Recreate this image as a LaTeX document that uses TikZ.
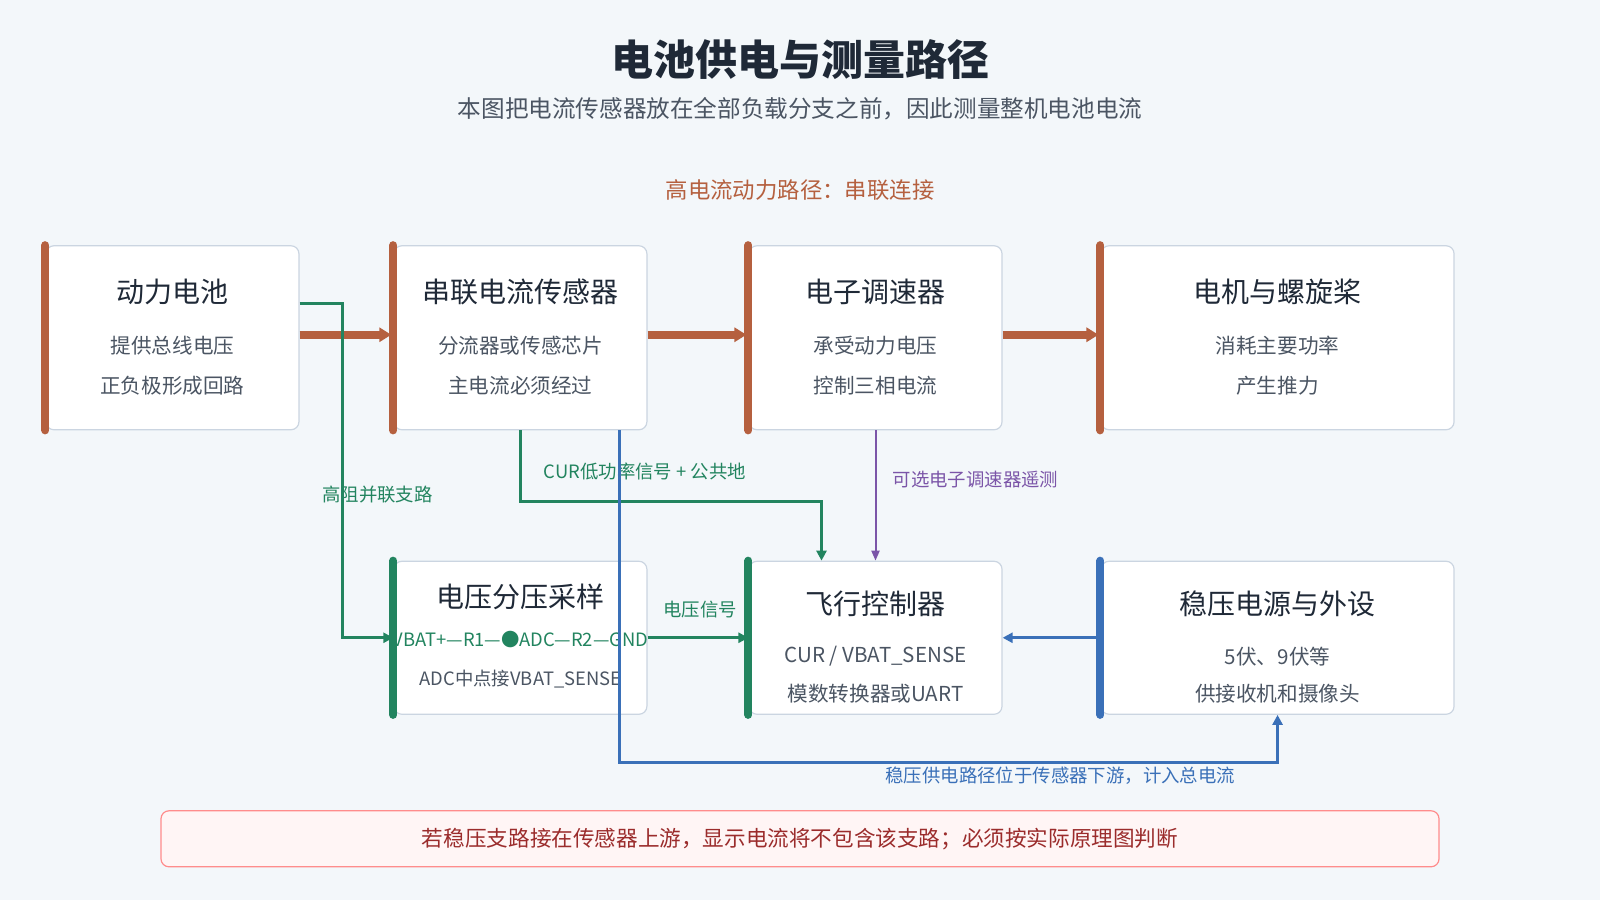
\documentclass[tikz,border=0pt]{standalone}
\usepackage{fontspec}
\setmainfont{Noto Sans CJK SC}
\usetikzlibrary{positioning,arrows.meta,calc}
\definecolor{bgc}{HTML}{F3F7FA}
\definecolor{powc}{HTML}{B5603F}
\definecolor{sigc}{HTML}{22845F}
\definecolor{regc}{HTML}{3A70B8}
\definecolor{telc}{HTML}{7B55A8}
\definecolor{inkc}{HTML}{1F2937}
\definecolor{subc}{HTML}{4B5563}
\definecolor{edgc}{HTML}{CBD5E1}
\definecolor{notec}{HTML}{9B2C2C}
\tikzset{
	box/.style={draw=edgc,fill=white,rounded corners=4pt,line width=0.6pt,minimum width=126.5pt,minimum height=92pt},
	lowbox/.style={box,minimum height=76.5pt},
	bar/.style={line width=4pt,line cap=round},
	ttl/.style={font=\fontsize{14}{16}\selectfont,text=inkc},
	txt/.style={font=\fontsize{10.3}{12}\selectfont,text=subc},
	lbl/.style={font=\fontsize{9.2}{11}\selectfont},
	powedge/.style={-{Triangle[length=6pt,width=7pt]},line width=4pt,color=powc},
	sigedge/.style={-{Triangle[length=5pt,width=5pt]},line width=1.5pt,color=sigc},
	regedge/.style={-{Triangle[length=5pt,width=5pt]},line width=1.5pt,color=regc},
	teledge/.style={-{Triangle[length=5pt,width=4pt]},line width=1pt,color=telc}
}
\begin{document}
\begin{tikzpicture}[x=0.5102pt,y=-0.5102pt]
	\fill[bgc] (0,0) rectangle (1568,882);
	\useasboundingbox (0,0) rectangle (1568,882);

	%% title
	\node[font=\fontsize{21}{24}\selectfont\bfseries,text=inkc] (title) at (784,58) {电池供电与测量路径};
	\node[font=\fontsize{11.8}{14}\selectfont,text=subc] (subtitle) at (784,107) {本图把电流传感器放在全部负载分支之前，因此测量整机电池电流};
	\node[font=\fontsize{11.2}{13}\selectfont,text=powc] (pathlbl) at (784,186) {高电流动力路径：串联连接};

	%% upper row
	\node[box] (bat) at (169,331) {};
	\node[box] (sen) at (510,331) {};
	\node[box] (esc) at (858,331) {};
	\node[box,minimum width=176.5pt] (mot) at (1252,331) {};
	\foreach \n in {bat,sen,esc,mot}
		\draw[bar,powc] (\n.north west) -- (\n.south west);

	\node[ttl] at (169,286) {动力电池};
	\node[txt] at (169,339) {提供总线电压};
	\node[txt] at (169,378) {正负极形成回路};
	\node[ttl] at (510,286) {串联电流传感器};
	\node[txt] at (510,339) {分流器或传感芯片};
	\node[txt] at (510,378) {主电流必须经过};
	\node[ttl] at (858,286) {电子调速器};
	\node[txt] at (858,339) {承受动力电压};
	\node[txt] at (858,378) {控制三相电流};
	\node[ttl] at (1252,286) {电机与螺旋桨};
	\node[txt] at (1252,339) {消耗主要功率};
	\node[txt] at (1252,378) {产生推力};

	%% lower row
	\node[lowbox] (div) at (510,625) {};
	\node[lowbox] (fc) at (858,625) {};
	\node[lowbox,minimum width=176.5pt] (reg) at (1252,625) {};
	\draw[bar,sigc] (div.north west) -- (div.south west);
	\draw[bar,sigc] (fc.north west) -- (fc.south west);
	\draw[bar,regc] (reg.north west) -- (reg.south west);

	\node[ttl] at (510,585) {电压分压采样};
	\node[lbl,text=sigc] at (510,627) {VBAT+—R1—●ADC—R2—GND};
	\node[lbl,text=subc] at (510,665) {ADC中点接VBAT\_SENSE};
	\node[ttl] at (858,592) {飞行控制器};
	\node[txt] at (858,643) {CUR / VBAT\_SENSE};
	\node[txt] at (858,680) {模数转换器或UART};
	\node[ttl] at (1252,592) {稳压电源与外设};
	\node[txt] at (1252,643) {5伏、9伏等};
	\node[txt] at (1252,680) {供接收机和摄像头};

	%% power path
	\draw[powedge] ([yshift=1.5pt]bat.east) -- ([yshift=1.5pt,xshift=-1pt]sen.west);
	\draw[powedge] ([yshift=1.5pt]sen.east) -- ([yshift=1.5pt,xshift=-1pt]esc.west);
	\draw[powedge] ([yshift=1.5pt]esc.east) -- ([yshift=1.5pt,xshift=-1pt]mot.west);

	%% signal paths
	\draw[sigedge] ([yshift=17pt]bat.east) -| ([xshift=-25.5pt]div.west) -- (div.west);
	\node[lbl,text=sigc] at (370,485) {高阻并联支路};
	\draw[sigedge] (sen.south) -- ++(0,70) -| ([xshift=-27pt]fc.north);
	\node[lbl,text=sigc] at (632,462) {CUR低功率信号 + 公共地};
	\draw[teledge] (esc.south) -- (fc.north);
	\node[lbl,text=telc] at (956,470) {可选电子调速器遥测};
	\draw[sigedge] (div.east) -- (fc.west);
	\node[lbl,text=sigc] at (686,597) {电压信号};

	%% regulator paths
	\draw[regedge] (reg.west) -- (fc.east);
	\draw[regedge] ([xshift=49.5pt]sen.south) -- ++(0,325) -| (reg.south);
	\node[lbl,text=regc] at (1039,760) {稳压供电路径位于传感器下游，计入总电流};

	%% note
	\node[draw=red!45,fill=red!4,rounded corners=4pt,line width=0.6pt,minimum width=639pt,minimum height=28pt,font=\fontsize{10.8}{13}\selectfont,text=notec] (note) at (784,822) {若稳压支路接在传感器上游，显示电流将不包含该支路；必须按实际原理图判断};
\end{tikzpicture}
\end{document}
